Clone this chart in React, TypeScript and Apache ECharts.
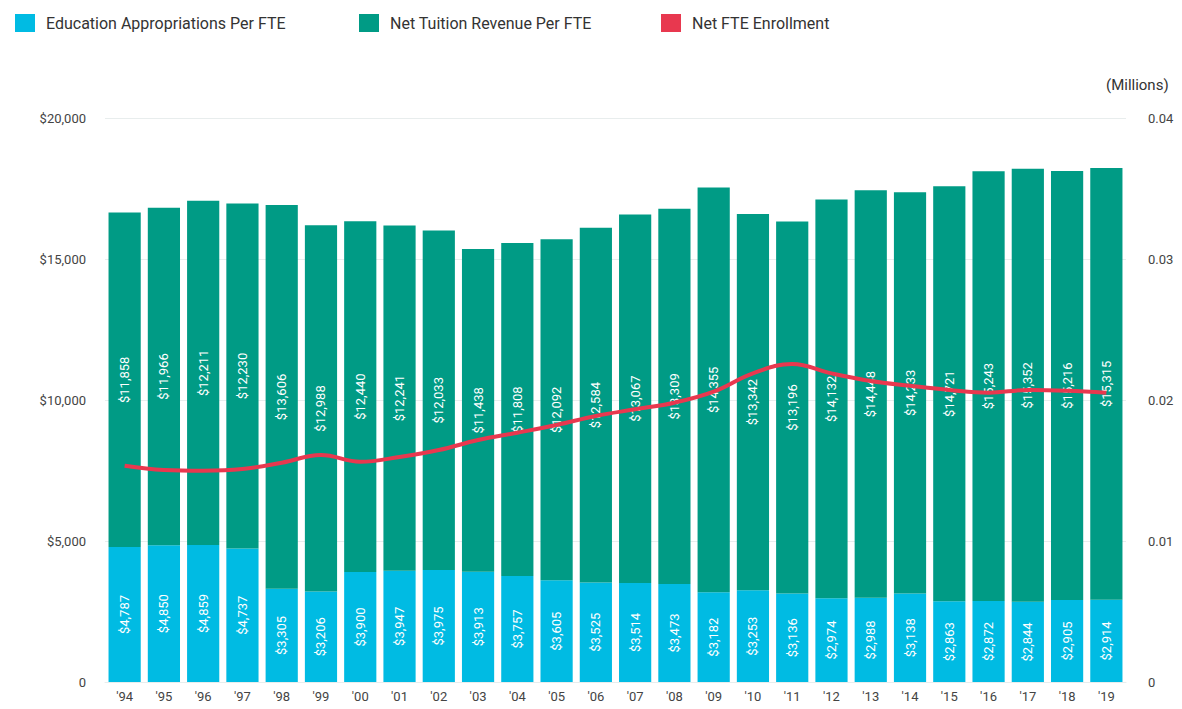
import React, { useEffect, useRef } from "react";
import * as echarts from "echarts";

const years = ["'94","'95","'96","'97","'98","'99","'00","'01","'02","'03","'04","'05","'06","'07","'08","'09","'10","'11","'12","'13","'14","'15","'16","'17","'18","'19"];
const appropriations = [4787,4850,4859,4737,3305,3206,3900,3947,3975,3913,3757,3605,3525,3514,3473,3182,3253,3136,2974,2988,3138,2863,2872,2844,2905,2914];
const tuition = [11858,11966,12211,12230,13606,12988,12440,12241,12033,11438,11808,12092,12584,13067,13309,14355,13342,13196,14132,14448,14233,14721,15243,15352,15216,15315];
const enrollment = [0.01534,0.01504,0.01499,0.01511,0.01555,0.0161,0.01562,0.01596,0.01645,0.01716,0.01768,0.01823,0.01887,0.01934,0.01981,0.02059,0.02189,0.02255,0.02189,0.02135,0.02101,0.02071,0.02052,0.02071,0.02066,0.02052];
const seriesNames = ["Education Appropriations Per FTE", "Net Tuition Revenue Per FTE", "Net FTE Enrollment"];

const fmt = (v: number) => "$" + v.toLocaleString("en-US");

export default function App() {
  const ref = useRef<HTMLDivElement>(null);
  useEffect(() => {
    const chart = echarts.init(ref.current!, null, { renderer: "svg" });
    const font = "Roboto";
    const legendLefts = [10, 354, 656];
    const legend = seriesNames.map((n, i) => ({
      left: legendLefts[i],
      top: 9,
      icon: "rect",
      itemWidth: 20,
      itemHeight: 18,
      textStyle: { fontSize: 16, color: "#333", fontFamily: font, padding: [0, 0, 0, 6] },
      data: [n],
    }));
    const barLabel = {
      show: true,
      position: "inside",
      rotate: 90,
      color: "#fff",
      fontSize: 13,
      formatter: (p: any) => fmt(p.value),
    };
    chart.setOption({
      animation: false,
      textStyle: { fontFamily: font },
      legend,
      grid: { left: 105, right: 56, top: 118, bottom: 27 },
      xAxis: {
        type: "category",
        data: years,
        axisLine: { lineStyle: { color: "#e8eded" } },
        axisTick: { show: false },
        axisLabel: { color: "#444", fontSize: 13, margin: 8 },
      },
      yAxis: [
        {
          type: "value",
          min: 0,
          max: 20000,
          interval: 5000,
          axisLabel: {
            color: "#444",
            fontSize: 13,
            margin: 19,
            formatter: (v: number) => (v === 0 ? "0" : fmt(v)),
          },
          splitLine: { lineStyle: { color: "#e8eded" } },
          axisLine: { show: false },
          axisTick: { show: false },
        },
        {
          type: "value",
          min: 0,
          max: 0.04,
          interval: 0.01,
          name: "(Millions)",
          nameGap: 26,
          nameTextStyle: { color: "#333", fontSize: 15, align: "left", padding: [0, 0, 0, -20] },
          axisLabel: {
            color: "#444",
            fontSize: 13,
            margin: 22,
            formatter: (v: number) => (v === 0 ? "0" : v.toFixed(2)),
          },
          splitLine: { show: false },
          axisLine: { show: false },
          axisTick: { show: false },
        },
      ],
      series: [
        {
          name: seriesNames[0],
          type: "bar",
          stack: "t",
          data: appropriations,
          barCategoryGap: "18%",
          itemStyle: { color: "#00bbe3" },
          label: barLabel,
        },
        {
          name: seriesNames[1],
          type: "bar",
          stack: "t",
          data: tuition,
          itemStyle: { color: "#009b85" },
          label: barLabel,
        },
        {
          name: seriesNames[2],
          type: "line",
          yAxisIndex: 1,
          data: enrollment,
          smooth: 0.4,
          symbol: "none",
          z: 10,
          itemStyle: { color: "#e8384f" },
          lineStyle: { color: "#e8384f", width: 4 },
        },
      ],
    });
    return () => chart.dispose();
  }, []);
  return <div ref={ref} style={{ width: 1182, height: 709, position: "absolute", left: 0, top: 0 }} />;
}
